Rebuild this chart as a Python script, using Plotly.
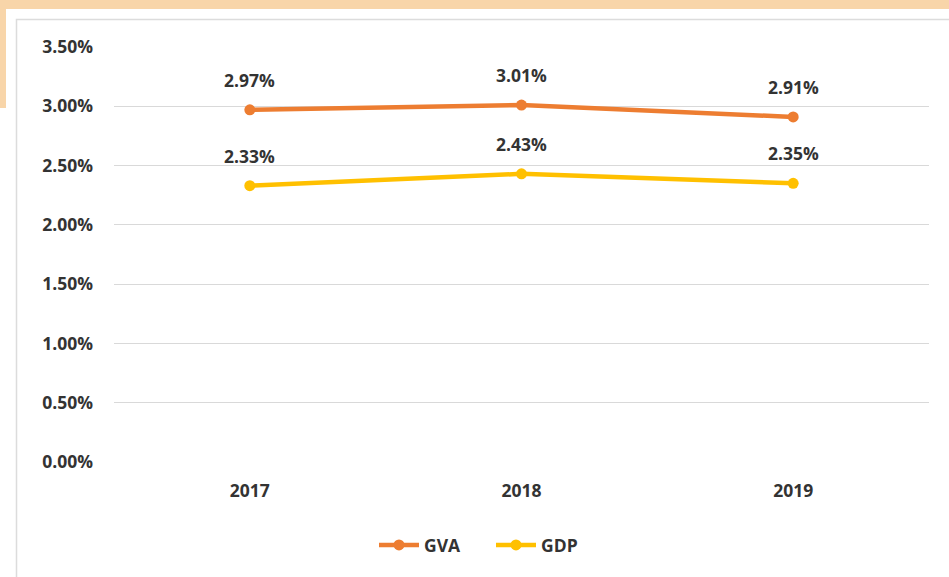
import plotly.graph_objects as go

years = ["2017", "2018", "2019"]
gva = [2.97, 3.01, 2.91]
gdp = [2.33, 2.43, 2.35]
y_ticks = [0, 0.5, 1.0, 1.5, 2.0, 2.5, 3.0, 3.5]
y_tick_labels = ["0.00%", "0.50%", "1.00%", "1.50%", "2.00%", "2.50%", "3.00%", "3.50%"]

W, H = 949, 577
L, R, T, B = 114, 20, 47, 115
PW, PH = W - L - R, H - T - B

def px(x):
    return (x - L) / PW

def py(y):
    return (H - B - y) / PH

FONT = dict(family="Open Sans", size=17.5, color="#333333", weight="bold")
ORANGE = "#ED7D31"
GOLD = "#FFC000"

fig = go.Figure()
for name, vals, col in [("GVA", gva, ORANGE), ("GDP", gdp, GOLD)]:
    fig.add_trace(go.Scatter(
        x=years, y=vals, name=name, mode="lines+markers",
        line=dict(color=col, width=4.5),
        marker=dict(color=col, size=11),
    ))
    for i, yv in enumerate(vals):
        fig.add_annotation(x=i, y=yv, xref="x", yref="y", text=f"{yv:.2f}%",
                           showarrow=False, yshift=30, font=FONT)

shapes = [
    dict(type="rect", xref="paper", yref="paper", x0=px(0), x1=px(W), y0=py(9), y1=py(0),
         fillcolor="#F8D5A9", line_width=0, layer="below"),
    dict(type="rect", xref="paper", yref="paper", x0=px(0), x1=px(6), y0=py(108), y1=py(0),
         fillcolor="#F8D5A9", line_width=0, layer="below"),
    dict(type="rect", xref="paper", yref="paper", x0=px(16.5), x1=px(W + 20), y0=py(H + 20), y1=py(19.5),
         fillcolor="white", line=dict(color="#DCDCDC", width=1.5), layer="below"),
]

fig.update_layout(
    width=W, height=H, autosize=False,
    margin=dict(l=L, r=R, t=T, b=B),
    paper_bgcolor="white", plot_bgcolor="rgba(0,0,0,0)",
    shapes=shapes,
    showlegend=True,
    legend=dict(orientation="h", x=px(374), xanchor="left", y=py(545), yanchor="middle",
                font=FONT, bgcolor="rgba(0,0,0,0)", itemwidth=40, tracegroupgap=0,
                entrywidth=62, entrywidthmode="pixels"),
    xaxis=dict(type="category", range=[-0.5, 2.5], showgrid=False, zeroline=False,
               showline=False, tickfont=FONT, ticklabelstandoff=16),
    yaxis=dict(range=[0, 3.5], tickvals=y_ticks, ticktext=y_tick_labels,
               showgrid=True, gridcolor="#D9D9D9", gridwidth=1, zeroline=False,
               showline=False, tickfont=FONT, ticklabelstandoff=20),
)

fig.write_html("out.html", config={"displayModeBar": False},
               post_script="document.body.style.margin='0';")
